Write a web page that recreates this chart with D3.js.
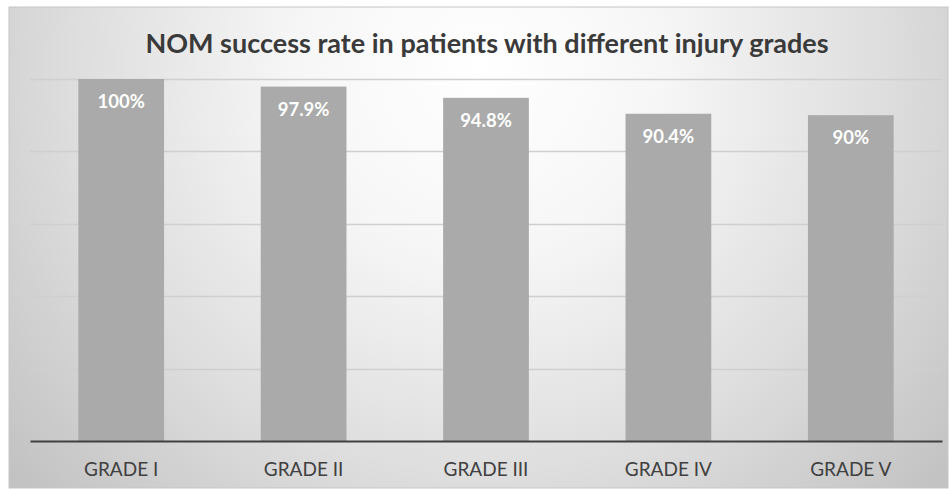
<!DOCTYPE html>
<head>
  <meta charset="utf-8">
  <script src="https://cdn.jsdelivr.net/npm/d3@7"></script>
  <style>
    body { margin: 0; background: #fff; }
    text { font-family: Lato, "Open Sans", sans-serif; }
  </style>
</head>
<body>
  <svg width="950" height="489"></svg>
  <script>

  var grades = ["GRADE I", "GRADE II", "GRADE III", "GRADE IV", "GRADE V"];
  var successRate = [100, 97.9, 94.8, 90.4, 90];
  var rateLabels = ["100%", "97.9%", "94.8%", "90.4%", "90%"];
  var gridTicks = [0, 20, 40, 60, 80, 100];

  var svg = d3.select("svg"),
      width = +svg.attr("width"),
      height = +svg.attr("height");

  var margin = {top: 79, right: 8, bottom: 48, left: 30};

  var defs = svg.append("defs");
  var grad = defs.append("radialGradient")
      .attr("id", "bg")
      .attr("gradientUnits", "userSpaceOnUse")
      .attr("cx", 480).attr("cy", 70).attr("r", 620);
  grad.append("stop").attr("offset", "0%").attr("stop-color", "#ffffff");
  grad.append("stop").attr("offset", "30%").attr("stop-color", "#f6f6f6");
  grad.append("stop").attr("offset", "65%").attr("stop-color", "#dedede");
  grad.append("stop").attr("offset", "100%").attr("stop-color", "#c2c2c2");

  svg.append("rect")
      .attr("x", 9).attr("y", 7)
      .attr("width", 939).attr("height", 481)
      .attr("fill", "url(#bg)")
      .attr("stroke", "#c6c6c6");

  var x = d3.scaleBand()
      .domain(grades)
      .range([margin.left, 942])
      .paddingInner(0.53)
      .paddingOuter(0.265);

  var y = d3.scaleLinear()
      .domain([0, 100])
      .range([441, margin.top]);

  // gridlines
  svg.append("g")
      .attr("class", "grid")
    .selectAll("line")
    .data(gridTicks.slice(1))
    .enter().append("line")
      .attr("x1", x.range()[0])
      .attr("x2", x.range()[1])
      .attr("y1", function(d) { return Math.round(y(d)) + 0.5; })
      .attr("y2", function(d) { return Math.round(y(d)) + 0.5; })
      .attr("stroke", "#cfcfcf")
      .attr("stroke-width", 1.3);

  svg.append("g")
    .selectAll("rect")
    .data(successRate)
    .enter().append("rect")
      .attr("x", function(d, i) { return x(grades[i]); })
      .attr("y", function(d) { return y(d); })
      .attr("width", x.bandwidth())
      .attr("height", function(d) { return y(0) - y(d); })
      .attr("fill", "#a9aaa9");

  svg.append("g")
    .selectAll("text")
    .data(successRate)
    .enter().append("text")
      .attr("x", function(d, i) { return x(grades[i]) + x.bandwidth() / 2; })
      .attr("y", function(d) { return y(d) + 29; })
      .attr("text-anchor", "middle")
      .attr("fill", "#ffffff")
      .attr("font-weight", "bold")
      .attr("font-size", 18.5)
      .text(function(d, i) { return rateLabels[i]; });

  // x axis
  var xAxis = svg.append("g")
      .attr("transform", "translate(0," + y(0) + ")")
      .call(d3.axisBottom(x).tickSize(0).tickPadding(22));
  xAxis.select(".domain")
      .attr("stroke", "#404040")
      .attr("stroke-width", 2.2);
  xAxis.selectAll("text")
      .attr("fill", "#404040")
      .attr("font-size", 19)
      .attr("font-family", "Lato, 'Open Sans', sans-serif");

  svg.append("text")
      .attr("x", 487)
      .attr("y", 53)
      .attr("text-anchor", "middle")
      .attr("fill", "#3a3a3a")
      .attr("font-weight", "bold")
      .attr("font-size", 27)
      .text("NOM success rate in patients with different injury grades");

  </script>
</body>
